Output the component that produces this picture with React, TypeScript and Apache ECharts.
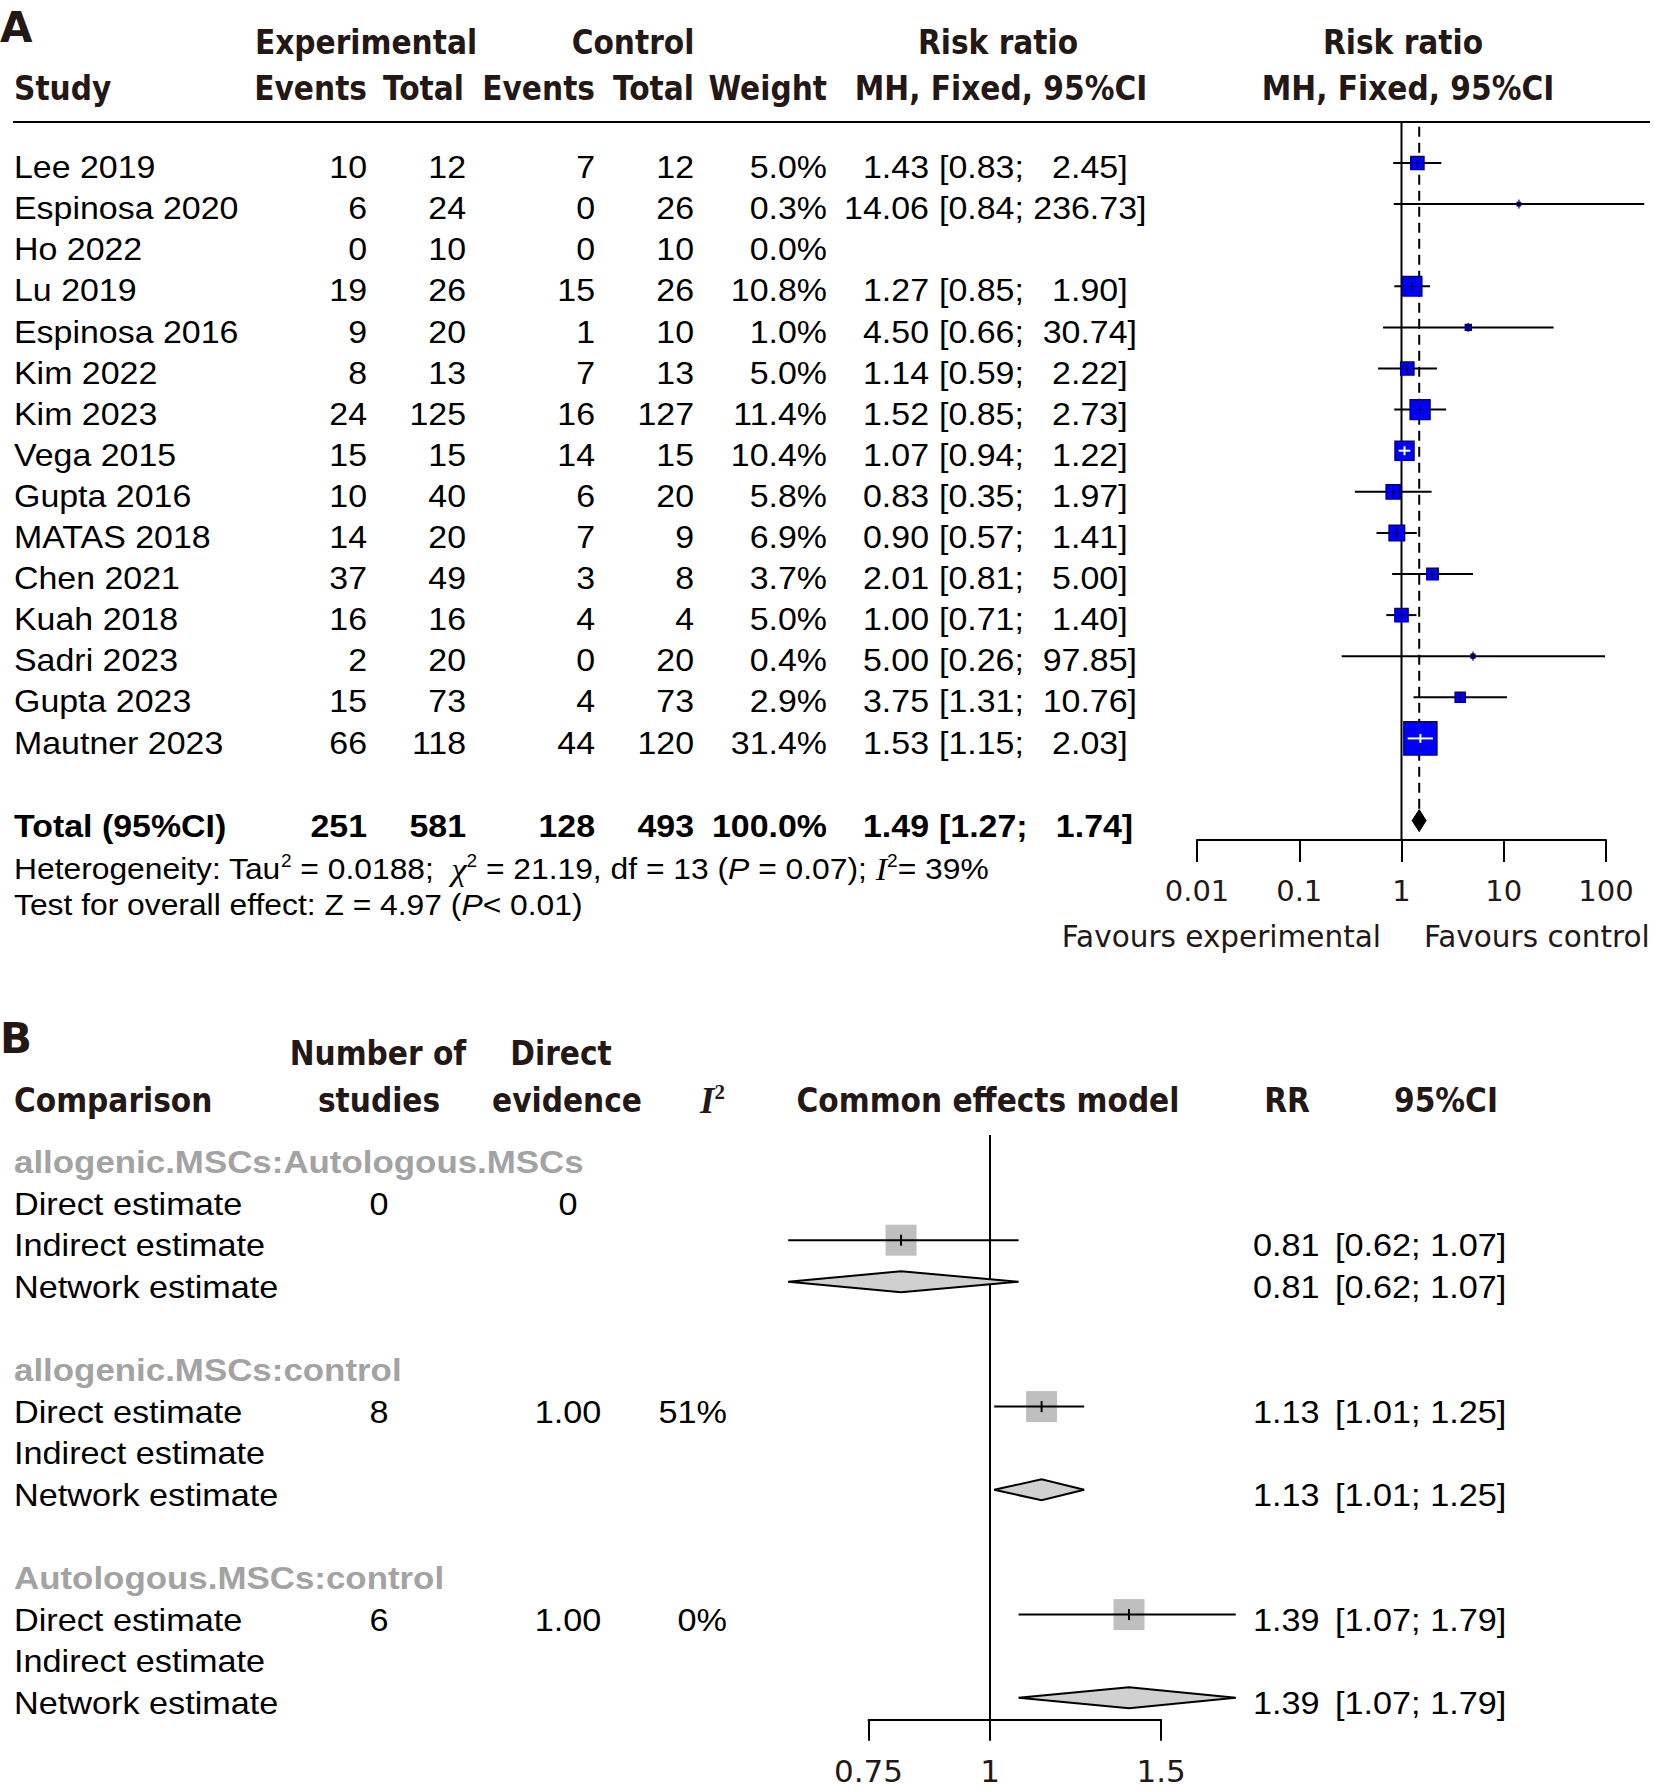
import React, { useEffect, useRef } from 'react';
import * as echarts from 'echarts';

// ---------------- Panel A data ----------------
const STUDIES = ['Lee 2019', 'Espinosa 2020', 'Ho 2022', 'Lu 2019', 'Espinosa 2016', 'Kim 2022', 'Kim 2023', 'Vega 2015', 'Gupta 2016', 'MATAS 2018', 'Chen 2021', 'Kuah 2018', 'Sadri 2023', 'Gupta 2023', 'Mautner 2023'];
const EXP_EVENTS = [10, 6, 0, 19, 9, 8, 24, 15, 10, 14, 37, 16, 2, 15, 66];
const EXP_TOTAL = [12, 24, 10, 26, 20, 13, 125, 15, 40, 20, 49, 16, 20, 73, 118];
const CTRL_EVENTS = [7, 0, 0, 15, 1, 7, 16, 14, 6, 7, 3, 4, 0, 4, 44];
const CTRL_TOTAL = [12, 26, 10, 26, 10, 13, 127, 15, 20, 9, 8, 4, 20, 73, 120];
const WEIGHT = [5.0, 0.3, 0.0, 10.8, 1.0, 5.0, 11.4, 10.4, 5.8, 6.9, 3.7, 5.0, 0.4, 2.9, 31.4];
const RR: (number | null)[] = [1.43, 14.06, null, 1.27, 4.5, 1.14, 1.52, 1.07, 0.83, 0.9, 2.01, 1.0, 5.0, 3.75, 1.53];
const RR_LO: (number | null)[] = [0.83, 0.84, null, 0.85, 0.66, 0.59, 0.85, 0.94, 0.35, 0.57, 0.81, 0.71, 0.26, 1.31, 1.15];
const RR_HI: (number | null)[] = [2.45, 236.73, null, 1.9, 30.74, 2.22, 2.73, 1.22, 1.97, 1.41, 5.0, 1.4, 97.85, 10.76, 2.03];
const TOTAL_LABEL = 'Total (95%CI)';
const TOTAL_COUNTS = [251, 581, 128, 493];
const TOTAL_WEIGHT = 100.0;
const TOTAL_RR = [1.49, 1.27, 1.74]; // estimate, lower, upper
const AXIS_A_TICKS = [0.01, 0.1, 1, 10, 100];
const AXIS_A_LABELS = ['0.01', '0.1', '1', '10', '100'];

// ---------------- Panel B data ----------------
const B_GROUPS = ['allogenic.MSCs:Autologous.MSCs', 'allogenic.MSCs:control', 'Autologous.MSCs:control'];
const B_ESTIMATES = ['Direct estimate', 'Indirect estimate', 'Network estimate'];
const B_N_STUDIES = ['0', '8', '6'];
const B_DIRECT_EVIDENCE = ['0', '1.00', '1.00'];
const B_I2 = ['', '51%', '0%'];
const B_RR: (number | null)[][] = [[null, 0.81, 0.81], [1.13, null, 1.13], [1.39, null, 1.39]];
const B_LO: (number | null)[][] = [[null, 0.62, 0.62], [1.01, null, 1.01], [1.07, null, 1.07]];
const B_HI: (number | null)[][] = [[null, 1.07, 1.07], [1.25, null, 1.25], [1.79, null, 1.79]];
const AXIS_B_TICKS = [0.75, 1, 1.5];
const AXIS_B_LABELS = ['0.75', '1', '1.5'];

// ---------------- layout constants ----------------
const W = 1654;
const H = 1792;
const A_ROW0 = 163;
const A_PITCH = 41.1;
const A_YMIN = -1;
const A_YMAX = 16.47;
const A_TOTAL_ROW = 16;
const A_X_LEFT = 1197;
const A_X_RIGHT = 1606;
const B_ROW0 = 1157;
const B_PITCH = 41.6;
const B_YMIN = -0.53;
const B_YMAX = 13.53;
const B_X_ONE = 990;
const B_PX_PER_DECADE = 972;

const rowA = (i: number) => A_ROW0 + A_PITCH * i;
const rowB = (i: number) => B_ROW0 + B_PITCH * i;
const lg = (v: number) => Math.log10(v);

const HEAD = '#231815';
const BOLD_FONT = 'DejaVu Sans';
const BODY_FONT = 'Liberation Sans';

type TOpts = {
  align?: 'left' | 'center' | 'right';
  size?: number;
  weight?: string;
  family?: string;
  color?: string;
  sx?: number;
  fstyle?: string;
  rich?: any;
};

function txt(x: number, y: number, text: string, o: TOpts = {}) {
  const align = o.align || 'left';
  const style: any = {
    text,
    fill: o.color || '#000',
    fontSize: o.size || 32,
    fontFamily: o.family || BODY_FONT,
    fontWeight: o.weight || 'normal',
    fontStyle: o.fstyle || 'normal',
    align,
    verticalAlign: 'middle',
    textAlign: align,
    textVerticalAlign: 'middle',
  };
  if (o.rich) style.rich = o.rich;
  return { type: 'text', x, y, scaleX: o.sx ?? 1, silent: true, z: 10, style };
}

const head = (x: number, y: number, text: string, align: 'left' | 'center' | 'right') =>
  txt(x, y, text, { align, size: 33, weight: 'bold', family: BOLD_FONT, color: HEAD, sx: 0.9 });
const body = (x: number, y: number, text: string, align: 'left' | 'center' | 'right' = 'left', bold = false) =>
  txt(x, y, text, { align, size: 32, weight: bold ? 'bold' : 'normal', sx: 1.06 });

const NB = '\u00A0';
const HI_WIDTH = Math.max(...RR_HI.filter((v) => v != null).map((v) => (v as number).toFixed(2).length));
const ciText = (lo: number, hi: number) => {
  const h = hi.toFixed(2);
  return `[${lo.toFixed(2)};${NB}${NB.repeat(Math.max(0, HI_WIDTH - h.length))}${h}]`;
};

function buildGraphics() {
  const g: any[] = [];
  // ---- Panel A headers ----
  g.push(txt(0, 27, 'A', { size: 42, weight: 'bold', family: BOLD_FONT, color: HEAD }));
  g.push(head(366, 42, 'Experimental', 'center'));
  g.push(head(633, 42, 'Control', 'center'));
  g.push(head(998, 42, 'Risk ratio', 'center'));
  g.push(head(1403, 42, 'Risk ratio', 'center'));
  g.push(head(14, 88, 'Study', 'left'));
  g.push(head(367, 88, 'Events', 'right'));
  g.push(head(464, 88, 'Total', 'right'));
  g.push(head(595, 88, 'Events', 'right'));
  g.push(head(694, 88, 'Total', 'right'));
  g.push(head(827, 88, 'Weight', 'right'));
  g.push(head(1001, 88, 'MH, Fixed, 95%CI', 'center'));
  g.push(head(1408, 88, 'MH, Fixed, 95%CI', 'center'));
  g.push({ type: 'line', silent: true, shape: { x1: 13, y1: rowA(A_YMIN), x2: 1650, y2: rowA(A_YMIN) }, style: { stroke: '#000', lineWidth: 2 } });

  // ---- Panel A rows ----
  STUDIES.forEach((s, i) => {
    const y = rowA(i) + 4;
    g.push(body(14, y, s));
    g.push(body(367, y, String(EXP_EVENTS[i]), 'right'));
    g.push(body(466, y, String(EXP_TOTAL[i]), 'right'));
    g.push(body(595, y, String(CTRL_EVENTS[i]), 'right'));
    g.push(body(694, y, String(CTRL_TOTAL[i]), 'right'));
    g.push(body(827, y, WEIGHT[i].toFixed(1) + '%', 'right'));
    const rr = RR[i];
    const lo = RR_LO[i];
    const hi = RR_HI[i];
    if (rr != null && lo != null && hi != null) {
      g.push(body(929, y, rr.toFixed(2), 'right'));
      g.push(body(939, y, ciText(lo, hi), 'left'));
    }
  });
  const ty = rowA(A_TOTAL_ROW) + 5;
  g.push(body(14, ty, TOTAL_LABEL, 'left', true));
  g.push(body(367, ty, String(TOTAL_COUNTS[0]), 'right', true));
  g.push(body(466, ty, String(TOTAL_COUNTS[1]), 'right', true));
  g.push(body(595, ty, String(TOTAL_COUNTS[2]), 'right', true));
  g.push(body(694, ty, String(TOTAL_COUNTS[3]), 'right', true));
  g.push(body(827, ty, TOTAL_WEIGHT.toFixed(1) + '%', 'right', true));
  g.push(body(929, ty, TOTAL_RR[0].toFixed(2), 'right', true));
  g.push(body(939, ty, ciText(TOTAL_RR[1], TOTAL_RR[2]), 'left', true));

  const richA = {
    n: { fontSize: 30, fontFamily: BODY_FONT, fill: '#000', lineHeight: 34 },
    s: { fontSize: 18, fontFamily: BODY_FONT, fill: '#000', lineHeight: 18, verticalAlign: 'top' },
    i: { fontSize: 30, fontFamily: BODY_FONT, fontStyle: 'italic', fill: '#000', lineHeight: 34 },
    g: { fontSize: 32, fontFamily: 'Liberation Serif', fontStyle: 'italic', fill: '#000', lineHeight: 34 },
  };
  g.push(txt(14, 869, `{n|Heterogeneity: Tau}{s|2}{n| = 0.0188;${NB}${NB}}{g|χ}{s|2}{n| = 21.19, df = 13 (}{i|P}{n| = 0.07); }{g|I}{s|2}{n|= 39%}`, { size: 30, sx: 1.06, rich: richA }));
  g.push(txt(14, 905, `{n|Test for overall effect: Z = 4.97 (}{i|P}{n|< 0.01)}`, { size: 30, sx: 1.06, rich: richA }));

  g.push(txt(1381, 937, 'Favours experimental', { align: 'right', size: 29.5, family: 'DejaVu Sans', color: HEAD }));
  g.push(txt(1424, 937, 'Favours control', { align: 'left', size: 29.5, family: 'DejaVu Sans', color: HEAD }));

  // ---- Panel B headers ----
  g.push(txt(0, 1038, 'B', { size: 42, weight: 'bold', family: BOLD_FONT, color: HEAD }));
  g.push(head(378, 1053, 'Number of', 'center'));
  g.push(head(561, 1053, 'Direct', 'center'));
  g.push(head(14, 1100, 'Comparison', 'left'));
  g.push(head(379, 1100, 'studies', 'center'));
  g.push(head(567, 1100, 'evidence', 'center'));
  g.push(txt(700, 1100, '{i|I}{s|2}', {
    size: 37,
    rich: {
      i: { fontSize: 37, fontFamily: 'Liberation Serif', fontStyle: 'italic', fontWeight: 'bold', fill: HEAD, lineHeight: 38 },
      s: { fontSize: 21, fontFamily: 'Liberation Serif', fontWeight: 'bold', fill: HEAD, lineHeight: 21, verticalAlign: 'top' },
    },
  }));
  g.push(head(988, 1100, 'Common effects model', 'center'));
  g.push(head(1287, 1100, 'RR', 'center'));
  g.push(head(1446, 1100, '95%CI', 'center'));

  // ---- Panel B rows ----
  B_GROUPS.forEach((grp, gi) => {
    const base = gi * 5;
    g.push(txt(14, rowB(base) + 5, grp, { size: 32, weight: 'bold', color: '#a3a3a3', sx: 1.09 }));
    B_ESTIMATES.forEach((lab, k) => {
      const y = rowB(base + 1 + k) + 5;
      g.push(txt(14, y, lab, { size: 32, sx: 1.07 }));
      if (k === 0) {
        g.push(txt(379, y, B_N_STUDIES[gi], { align: 'center', size: 32, sx: 1.07 }));
        g.push(txt(568, y, B_DIRECT_EVIDENCE[gi], { align: 'center', size: 32, sx: 1.07 }));
        if (B_I2[gi]) g.push(txt(727, y, B_I2[gi], { align: 'right', size: 32, sx: 1.07 }));
      }
      const rr = B_RR[gi][k];
      const lo = B_LO[gi][k];
      const hi = B_HI[gi][k];
      if (rr != null && lo != null && hi != null) {
        g.push(txt(1253, y, rr.toFixed(2), { size: 32, sx: 1.07 }));
        g.push(txt(1335, y, `[${lo.toFixed(2)}; ${hi.toFixed(2)}]`, { size: 32, sx: 1.07 }));
      }
    });
  });
  return g;
}

const SQUARE_K = 5.9; // px per sqrt(weight %)
const B_SQUARE = 31;

function buildOption(): any {
  const aData: number[][] = [];
  STUDIES.forEach((_, i) => {
    const rr = RR[i];
    const lo = RR_LO[i];
    const hi = RR_HI[i];
    if (rr != null && lo != null && hi != null) aData.push([i, lg(rr), lg(lo), lg(hi), WEIGHT[i]]);
  });
  const bData: number[][] = [];
  B_GROUPS.forEach((_, gi) => {
    [0, 1, 2].forEach((k) => {
      const rr = B_RR[gi][k];
      const lo = B_LO[gi][k];
      const hi = B_HI[gi][k];
      if (rr != null && lo != null && hi != null) bData.push([gi * 5 + 1 + k, lg(rr), lg(lo), lg(hi), k === 2 ? 1 : 0]);
    });
  });

  const aTickVals = AXIS_A_TICKS.map(lg);
  const bTickVals = AXIS_B_TICKS.map(lg);
  const labelFrom = (vals: number[], labels: string[]) => (v: number) => {
    let best = 0;
    vals.forEach((t, j) => {
      if (Math.abs(t - v) < Math.abs(vals[best] - v)) best = j;
    });
    return labels[best];
  };

  const bLeft = B_X_ONE + lg(AXIS_B_TICKS[0]) * B_PX_PER_DECADE;
  const bRight = B_X_ONE + lg(AXIS_B_TICKS[AXIS_B_TICKS.length - 1]) * B_PX_PER_DECADE;

  const axisCommon = {
    axisLine: { show: true, onZero: false, lineStyle: { color: '#000', width: 2 } },
    splitLine: { show: false },
  };

  return {
    animation: false,
    backgroundColor: '#ffffff',
    grid: [
      { left: A_X_LEFT, width: A_X_RIGHT - A_X_LEFT, top: rowA(A_YMIN), height: rowA(A_YMAX) - rowA(A_YMIN), outerBoundsMode: 'none', containLabel: false },
      { left: bLeft, width: bRight - bLeft, top: rowB(B_YMIN), height: rowB(B_YMAX) - rowB(B_YMIN), outerBoundsMode: 'none', containLabel: false },
    ],
    xAxis: [
      {
        gridIndex: 0, type: 'value', min: aTickVals[0], max: aTickVals[aTickVals.length - 1], interval: 1,
        ...axisCommon,
        axisTick: { show: true, length: 22, lineStyle: { color: '#000', width: 2 } },
        axisLabel: { show: true, margin: 37, fontSize: 29, fontFamily: 'DejaVu Sans', color: HEAD, showMinLabel: true, showMaxLabel: true, formatter: labelFrom(aTickVals, AXIS_A_LABELS) },
      },
      {
        gridIndex: 1, type: 'value', min: bTickVals[0], max: bTickVals[bTickVals.length - 1],
        ...axisCommon,
        axisTick: { show: true, length: 21, lineStyle: { color: '#000', width: 2 }, customValues: bTickVals },
        axisLabel: { show: true, margin: 36, fontSize: 31, fontFamily: 'DejaVu Sans', color: HEAD, showMinLabel: true, showMaxLabel: true, customValues: bTickVals, formatter: labelFrom(bTickVals, AXIS_B_LABELS) },
      },
    ],
    yAxis: [
      { gridIndex: 0, type: 'value', min: A_YMIN, max: A_YMAX, inverse: true, show: false },
      { gridIndex: 1, type: 'value', min: B_YMIN, max: B_YMAX, inverse: true, show: false },
    ],
    graphic: { elements: buildGraphics() },
    series: [
      // reference line at RR = 1 (A)
      {
        type: 'line', xAxisIndex: 0, yAxisIndex: 0, silent: true, symbol: 'none', z: 1,
        data: [[0, A_YMIN], [0, A_YMAX]], lineStyle: { color: '#000', width: 2 },
      },
      // dashed line at pooled estimate (A)
      {
        type: 'line', xAxisIndex: 0, yAxisIndex: 0, silent: true, symbol: 'none', z: 1,
        data: [[lg(TOTAL_RR[0]), -0.88], [lg(TOTAL_RR[0]), A_TOTAL_ROW - 0.2]], lineStyle: { color: '#000', width: 2, type: [10, 6] },
      },
      // study squares + CI (A)
      {
        type: 'custom', xAxisIndex: 0, yAxisIndex: 0, clip: false, silent: true, z: 3,
        encode: { x: 1, y: 0 },
        data: aData,
        renderItem: (params: any, api: any) => {
          const y = api.value(0);
          const pE = api.coord([api.value(1), y]);
          const pL = api.coord([api.value(2), y]);
          const pH = api.coord([api.value(3), y]);
          const side = SQUARE_K * Math.sqrt(api.value(4));
          const inside = pL[0] >= pE[0] - side / 2 && pH[0] <= pE[0] + side / 2;
          const col = inside ? '#ffffff' : '#000000';
          const ci = { x1: pL[0], y1: pE[1], x2: pH[0], y2: pE[1] };
          return {
            type: 'group',
            children: [
              { type: 'line', shape: ci, style: { stroke: '#000', lineWidth: 2 } },
              { type: 'rect', shape: { x: pE[0] - side / 2, y: pE[1] - side / 2, width: side, height: side }, style: { fill: '#0000ff', stroke: '#00008b', lineWidth: 1.5 } },
              { type: 'line', shape: inside ? ci : { x1: pE[0] - side / 2, y1: pE[1], x2: pE[0] + side / 2, y2: pE[1] }, style: { stroke: col, lineWidth: inside ? 2 : 1, opacity: inside ? 1 : 0.35 } },
              { type: 'line', shape: { x1: pE[0], y1: pE[1] - 4.5, x2: pE[0], y2: pE[1] + 4.5 }, style: { stroke: col, lineWidth: 2, opacity: inside ? 1 : 0.6 } },
            ],
          };
        },
      },
      // pooled diamond (A)
      {
        type: 'custom', xAxisIndex: 0, yAxisIndex: 0, clip: false, silent: true, z: 3,
        encode: { x: 1, y: 0 },
        data: [[A_TOTAL_ROW, lg(TOTAL_RR[0]), lg(TOTAL_RR[1]), lg(TOTAL_RR[2])]],
        renderItem: (params: any, api: any) => {
          const y = api.value(0);
          const pE = api.coord([api.value(1), y]);
          const pL = api.coord([api.value(2), y]);
          const pH = api.coord([api.value(3), y]);
          return {
            type: 'polygon',
            shape: { points: [[pL[0], pE[1]], [pE[0], pE[1] - 11], [pH[0], pE[1]], [pE[0], pE[1] + 11]] },
            style: { fill: '#000', stroke: '#000', lineWidth: 1 },
          };
        },
      },
      // reference line at RR = 1 (B)
      {
        type: 'line', xAxisIndex: 1, yAxisIndex: 1, silent: true, symbol: 'none', z: 1,
        data: [[0, B_YMIN], [0, B_YMAX]], lineStyle: { color: '#000', width: 2 },
      },
      // estimates (B)
      {
        type: 'custom', xAxisIndex: 1, yAxisIndex: 1, clip: false, silent: true, z: 3,
        encode: { x: 1, y: 0 },
        data: bData,
        renderItem: (params: any, api: any) => {
          const y = api.value(0);
          const pE = api.coord([api.value(1), y]);
          const pL = api.coord([api.value(2), y]);
          const pH = api.coord([api.value(3), y]);
          if (api.value(4) === 1) {
            return {
              type: 'polygon',
              shape: { points: [[pL[0], pE[1]], [pE[0], pE[1] - 10.5], [pH[0], pE[1]], [pE[0], pE[1] + 10.5]] },
              style: { fill: '#d0d0d0', stroke: '#000', lineWidth: 2 },
            };
          }
          const s = B_SQUARE;
          return {
            type: 'group',
            children: [
              { type: 'rect', shape: { x: pE[0] - s / 2, y: pE[1] - s / 2, width: s, height: s }, style: { fill: '#bfbfbf' } },
              { type: 'line', shape: { x1: pL[0], y1: pE[1], x2: pH[0], y2: pE[1] }, style: { stroke: '#000', lineWidth: 2 } },
              { type: 'line', shape: { x1: pE[0], y1: pE[1] - 5.5, x2: pE[0], y2: pE[1] + 5.5 }, style: { stroke: '#000', lineWidth: 2 } },
            ],
          };
        },
      },
    ],
  };
}

export default function App() {
  const ref = useRef<HTMLDivElement>(null);
  useEffect(() => {
    if (!ref.current) return;
    const chart = echarts.init(ref.current, undefined, { renderer: 'svg', width: W, height: H });
    chart.setOption(buildOption());
    return () => chart.dispose();
  }, []);
  return (
    <div
      ref={ref}
      style={{ position: 'absolute', left: 0, top: 0, width: W, height: H, background: '#fff' }}
    />
  );
}
